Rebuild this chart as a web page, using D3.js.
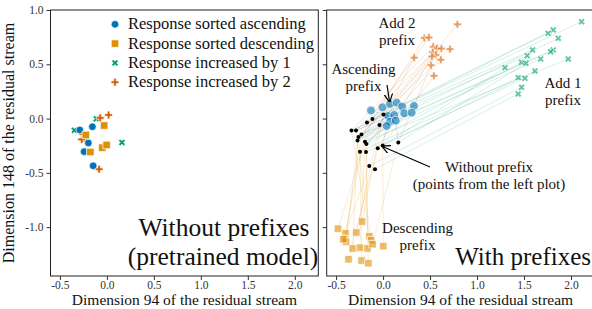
<!DOCTYPE html>
<html>
<head>
<meta charset="utf-8">
<script src="https://cdn.jsdelivr.net/npm/d3@7"></script>
<style>
  body { margin: 0; background: #fff; }
</style>
</head>
<body>
<div id="chart"></div>
<script>
// ---- data ----
var legendLabels = ['Response sorted ascending', 'Response sorted descending',
                    'Response increased by 1', 'Response increased by 2'];
var xTicks = [-0.5, 0.0, 0.5, 1.0, 1.5, 2.0];
var yTicks = [1.0, 0.5, 0.0, -0.5, -1.0];

// left panel: pretrained model, no prefix
var leftAsc = [[-0.288,-0.105],[-0.154,-0.075],[-0.242,-0.305],[-0.146,-0.435],[-0.197,-0.225]];
var leftDesc = [[-0.029,-0.064],[-0.224,-0.151],[-0.176,-0.308],[-0.05,-0.268],[-0.003,-0.243]];
var leftAdd1 = [[-0.112,-0.002],[-0.346,-0.108],[-0.197,-0.22],[0.16,-0.22],[-0.224,-0.188]];
var leftAdd2 = [[-0.071,0.006],[0.018,0.033],[-0.268,-0.192],[-0.083,-0.466],[-0.256,-0.142]];

// right panel: points without prefix (black) and with each prefix
var noPrefix = [[0.004,0.038],[-0.113,-0.004],[-0.171,-0.036],[-0.038,-0.059],[-0.336,-0.111],
  [-0.288,-0.111],[-0.230,-0.146],[-0.262,-0.169],[-0.272,-0.202],[-0.193,-0.213],
  [-0.177,-0.234],[0.162,-0.220],[-0.004,-0.248],[-0.057,-0.273],[-0.246,-0.305],
  [-0.182,-0.308],[-0.147,-0.436],[-0.086,-0.467]];
var ascPrefix = [[-0.129,0.075],[-0.006,0.104],[0.073,0.134],[0.145,0.146],[0.204,0.110],
  [0.329,0.116],[0.055,0.024],[0.119,0.033],[0.226,0.049],[0.304,0.054],[0.073,-0.029],
  [0.134,-0.019],[0.038,-0.068]];
var descPrefix = [[-0.224,-0.949],[-0.480,-1.014],[-0.400,-1.056],[-0.285,-1.049],[-0.145,-1.083],
  [-0.126,-1.121],[-0.405,-1.109],[-0.395,-1.134],[-0.323,-1.196],[-0.246,-1.189],
  [-0.166,-1.196],[-0.111,-1.157],[0.002,-1.175],[-0.368,-1.296],[-0.228,-1.308],
  [-0.157,-1.332],[-0.423,-1.111]];
var add1Prefix = [[2.113,0.892],[1.811,0.816],[1.757,0.785],[1.864,0.739],[1.591,0.632],
  [1.534,0.579],[1.811,0.632],[1.783,0.616],[1.677,0.549],[1.970,0.549],[1.474,0.518],
  [1.520,0.509],[1.297,0.469],[1.616,0.438],[1.438,0.377],[1.510,0.371],[1.474,0.288],
  [1.438,0.227]];
var add2Prefix = [[0.791,0.868],[0.440,0.742],[0.488,0.747],[0.331,0.561],[0.534,0.662],
  [0.573,0.647],[0.621,0.645],[0.712,0.639],[0.528,0.610],[0.563,0.586],[0.614,0.542],
  [0.510,0.491],[0.541,0.394],[0.520,0.572]];

var colors = {asc: '#0173b2', desc: '#de8f05', add1: '#029e73', add2: '#d55e00'};
var FONT = "'Liberation Serif'";

var W = 592, H = 309;
var svg = d3.select('#chart').append('svg').attr('width', W).attr('height', H);

var y = d3.scaleLinear().domain([1.0, -1.45]).range([10, 276]);
var xL = d3.scaleLinear().domain([-0.6, 2.25]).range([50.5, 318.3]);
var xR = d3.scaleLinear().domain([-0.6, 2.25]).range([326.7, 594.5]);

var fmt = function(d) { return d.toFixed(1); };

function txt(g, s, x, yy, size, anchor) {
  return g.append('text').attr('x', x).attr('y', yy).attr('text-anchor', anchor || 'start')
    .style('font-family', FONT).style('font-size', size + 'px').attr('fill', '#111').text(s);
}

function marker(kind, big) {
  if (kind === 'asc') return d3.symbol().type(d3.symbolCircle).size(big ? 60 : 46)();
  if (kind === 'desc') return d3.symbol().type(d3.symbolSquare).size(56)();
  return d3.symbol().type(d3.symbolCross).size(kind === 'add1' ? 30 : 34)();
}

function drawPanel(x, showYLabels) {
  var g = svg.append('g');
  var ax = g.append('g').attr('transform', 'translate(0,' + y.range()[1] + ')')
    .call(d3.axisBottom(x).tickValues(xTicks).tickFormat(fmt).tickSize(4).tickPadding(0.5));
  var ay = g.append('g').attr('transform', 'translate(' + x.range()[0] + ',0)')
    .call(d3.axisLeft(y).tickValues(yTicks).tickFormat(showYLabels ? fmt : '').tickSize(4).tickPadding(3));
  [ax, ay].forEach(function(a) {
    a.select('.domain').remove();
    a.selectAll('line').attr('stroke', '#333');
    a.selectAll('text').style('font-family', FONT).style('font-size', '11.5px').attr('fill', '#333');
  });
  txt(g, 'Dimension 94 of the residual stream', x.range()[0] + 133.9, 305.3, 15.5, 'middle');
  return g;
}

function drawPoints(g, pts, kind, x, alpha, big) {
  g.selectAll(null).data(pts).enter().append('path')
    .attr('d', marker(kind, big))
    .attr('transform', function(d) {
      return 'translate(' + x(d[0]) + ',' + y(d[1]) + ')' + (kind === 'add1' ? ' rotate(45)' : '');
    })
    .attr('fill', colors[kind]).attr('fill-opacity', alpha)
    .attr('stroke', '#fff').attr('stroke-width', 0.7);
}

// ---- left panel ----
var gl = drawPanel(xL, true);
drawPoints(gl, leftAdd1, 'add1', xL, 1);
drawPoints(gl, leftAdd2, 'add2', xL, 1);
drawPoints(gl, leftAsc, 'asc', xL, 1);
drawPoints(gl, leftDesc, 'desc', xL, 1);

var legendKinds = ['asc', 'desc', 'add1', 'add2'];
legendLabels.forEach(function(lab, i) {
  var row = gl.append('g').attr('transform', 'translate(115,' + (24.3 + i * 19.3) + ')');
  row.append('path').attr('d', marker(legendKinds[i]))
    .attr('transform', legendKinds[i] === 'add1' ? 'rotate(45)' : null)
    .attr('fill', colors[legendKinds[i]])
    .attr('stroke', '#fff').attr('stroke-width', 0.7);
  txt(row, lab, 13, 5, 16.5);
});

txt(gl, 'Without prefixes', 224, 236, 25.5, 'middle');
txt(gl, '(pretrained model)', 223, 265, 25.5, 'middle');

// ---- right panel ----
var gr = drawPanel(xR, false);
svg.append('clipPath').attr('id', 'clipR').append('rect')
  .attr('x', xR.range()[0]).attr('y', y.range()[0])
  .attr('width', xR.range()[1] - xR.range()[0]).attr('height', y.range()[1] - y.range()[0]);
var plot = gr.append('g').attr('clip-path', 'url(#clipR)');

function links(pts, kind) {
  plot.selectAll(null).data(pts).enter().append('line')
    .attr('x1', function(d, i) { return xR(noPrefix[i % noPrefix.length][0]); })
    .attr('y1', function(d, i) { return y(noPrefix[i % noPrefix.length][1]); })
    .attr('x2', function(d) { return xR(d[0]); })
    .attr('y2', function(d) { return y(d[1]); })
    .attr('stroke', colors[kind]).attr('stroke-opacity', 0.16).attr('stroke-width', 1);
}
links(add1Prefix, 'add1');
links(add2Prefix, 'add2');
links(descPrefix, 'desc');
links(ascPrefix, 'asc');

drawPoints(plot, add1Prefix, 'add1', xR, 0.6);
drawPoints(plot, add2Prefix, 'add2', xR, 0.6);
drawPoints(plot, descPrefix, 'desc', xR, 0.6);
drawPoints(plot, ascPrefix, 'asc', xR, 0.6, true);
plot.selectAll(null).data(noPrefix).enter().append('circle')
  .attr('cx', function(d) { return xR(d[0]); }).attr('cy', function(d) { return y(d[1]); })
  .attr('r', 2).attr('fill', '#000');

// annotations: two lines each
function label(lines, cx, y0) {
  lines.forEach(function(s, i) { txt(gr, s, cx, y0 - 1 + i * 16.8, 15, 'middle'); });
}
label(['Add 2', 'prefix'], 397, 29);
label(['Add 1', 'prefix'], 563, 89);
label(['Ascending', 'prefix'], 363.5, 75);
label(['Without prefix', '(points from the left plot)'], 489, 173);
label(['Descending', 'prefix'], 417.5, 234);

svg.append('defs').append('marker').attr('id', 'arr').attr('viewBox', '0 0 10 10')
  .attr('refX', 9).attr('refY', 5).attr('markerWidth', 7).attr('markerHeight', 7)
  .attr('orient', 'auto-start-reverse')
  .append('path').attr('d', 'M0,0 L10,5 L0,10').attr('fill', 'none').attr('stroke', '#000').attr('stroke-width', 1.5);
gr.append('line').attr('x1', 387).attr('y1', 85).attr('x2', 389.5).attr('y2', 101.5)
  .attr('stroke', '#000').attr('stroke-width', 1.2).attr('marker-end', 'url(#arr)');
gr.append('line').attr('x1', 430).attr('y1', 167).attr('x2', 382.5).attr('y2', 146.5)
  .attr('stroke', '#000').attr('stroke-width', 1.2).attr('marker-end', 'url(#arr)');

txt(gr, 'With prefixes', 591, 265, 25, 'end');

// frames
[xL, xR].forEach(function(x) {
  svg.append('rect').attr('x', x.range()[0]).attr('y', y.range()[0])
    .attr('width', x.range()[1] - x.range()[0]).attr('height', y.range()[1] - y.range()[0])
    .attr('fill', 'none').attr('stroke', '#222').attr('stroke-width', 1);
});

txt(svg, 'Dimension 148 of the residual stream', 0, 0, 16, 'middle')
  .attr('transform', 'translate(14,143) rotate(-90)');
</script>
</body>
</html>
